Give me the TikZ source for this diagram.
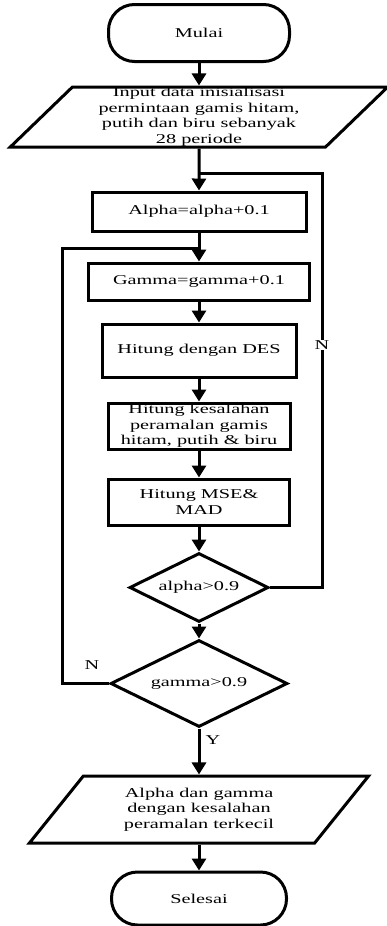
\documentclass[tikz,border=0pt]{standalone}
\usepackage{fontspec}
\setmainfont{Liberation Serif}[FakeStretch=1.5]
\usetikzlibrary{shapes.geometric,arrows.meta}

\begin{document}
\begin{tikzpicture}[x=1pt,y=-1pt,
  every node/.style={font=\fontsize{13.5}{15.5}\selectfont, align=center, inner sep=0pt},
  startstop/.style={draw, line width=3pt, rounded corners=26pt},
  process/.style={draw, line width=3pt, rectangle},
  decision/.style={draw, line width=3pt, diamond, aspect=2},
  io/.style={draw, line width=3pt, trapezium, trapezium stretches=true,
    trapezium left angle=50, trapezium right angle=130},
  flow/.style={line width=3pt, -{Triangle[width=14pt,length=12pt]}},
  loopline/.style={line width=3pt}]
\useasboundingbox (0,0) rectangle (386,926);
% nodes

\node[startstop, minimum width=181pt, minimum height=57pt] (mulai) at (199,33) {Mulai};
\node[io, minimum width=379pt, minimum height=60pt] (input) at (199,117) {Input data inisialisasi\\permintaan gamis hitam,\\putih dan biru sebanyak\\28 periode};
\node[process, minimum width=214pt, minimum height=39pt] (alpha) at (199,211.5) {Alpha=alpha+0.1};
\node[process, minimum width=221pt, minimum height=37pt] (gamma) at (199,281.5) {Gamma=gamma+0.1};
\node[process, minimum width=194pt, minimum height=53pt] (des) at (199,350.5) {Hitung dengan DES};
\node[process, minimum width=182pt, minimum height=46pt] (err) at (199,426) {Hitung kesalahan\\peramalan gamis\\hitam, putih \& biru};
\node[process, minimum width=181pt, minimum height=46pt] (mse) at (199,502) {Hitung MSE\&\\MAD};
\node[decision, minimum width=139pt, minimum height=69pt] (cekalpha) at (199,587.5) {alpha>0.9};
\node[decision, minimum width=177pt, minimum height=87pt] (cekgamma) at (199,683.5) {gamma>0.9};
\node[io, minimum width=340pt, minimum height=67pt, trapezium left angle=51, trapezium right angle=129] (hasil) at (199,809.5) {Alpha dan gamma\\dengan kesalahan\\peramalan terkecil};
\node[startstop, minimum width=175pt, minimum height=53pt] (selesai) at (199,898.5) {Selesai};

\coordinate (j1) at (199,173);
\coordinate (r1) at (322,173);
\coordinate (j2) at (199,248);
\coordinate (l1) at (62,248);

% arrows
\draw [flow] (mulai)--(input);
\draw [flow] (input)--(alpha);
\draw [flow] (alpha)--(gamma);
\draw [flow] (gamma)--(des);
\draw [flow] (des)--(err);
\draw [flow] (err)--(mse);
\draw [flow] (mse)--(cekalpha);
\draw [flow] (cekalpha)--(cekgamma);
\draw [flow] (cekgamma)--(hasil);
\draw [flow] (hasil)--(selesai);
\draw [loopline] (cekalpha.east) -| (r1) -- (j1);
\draw [loopline] (cekgamma.west) -| (l1) -- (j2);

% labels
\node[fill=white, inner sep=1pt] (n1) at (322,345) {N};
\node (n2) at (92,665) {N};
\node (y1) at (213,740) {Y};
\end{tikzpicture}
\end{document}
